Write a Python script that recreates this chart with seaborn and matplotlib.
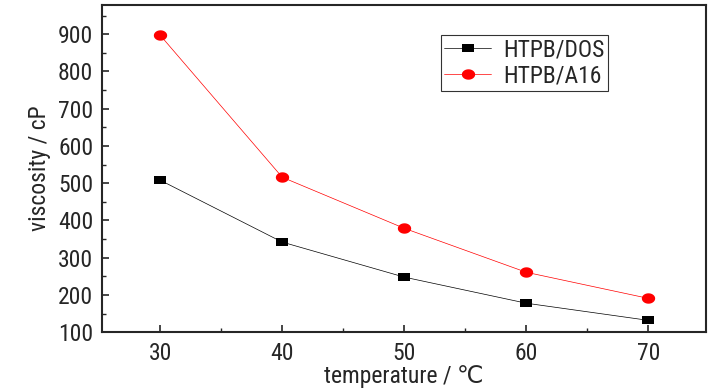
import matplotlib
matplotlib.use('Agg')
import matplotlib.pyplot as plt
import numpy as np
import pandas as pd
import seaborn as sns
from matplotlib.ticker import MultipleLocator

temperature = [30, 40, 50, 60, 70]
dos = [508, 342, 248, 178, 132]
a16 = [897, 516, 379, 261, 191]
series_names = ['HTPB/DOS', 'HTPB/A16']

df = pd.DataFrame({
    'temperature': temperature * 2,
    'viscosity': dos + a16,
    'sample': [series_names[0]] * 5 + [series_names[1]] * 5,
})

# the original picture is squashed a bit horizontally, so markers are wide
t = np.linspace(0, 2 * np.pi, 40)
wide_circle = list(zip(np.cos(t), 0.78 * np.sin(t)))
wide_square = [(-1, -0.72), (1, -0.72), (1, 0.72), (-1, 0.72), (-1, -0.72)]

sns.set_style('ticks')
fonts = ['Roboto Condensed', 'DejaVu Sans']
plt.rcParams['font.family'] = fonts
plt.rcParams['xtick.direction'] = 'in'
plt.rcParams['ytick.direction'] = 'in'

fig, ax = plt.subplots(figsize=(7.26, 3.9), dpi=100)
fig.subplots_adjust(left=0.14, right=0.972, top=0.987, bottom=0.148)

sns.lineplot(data=df, x='temperature', y='viscosity', hue='sample', style='sample',
             palette={'HTPB/DOS': 'black', 'HTPB/A16': 'red'},
             markers={'HTPB/DOS': wide_square, 'HTPB/A16': wide_circle}, dashes=False,
             markersize=9, markeredgewidth=0, linewidth=0.5, ax=ax)
for ln in ax.lines:
    ln.set_markersize(8.2 if ln.get_color() == 'black' else 9.6)

ax.set_xlim(25.2, 74.7)
ax.set_ylim(100, 978)
ax.xaxis.set_major_locator(MultipleLocator(10))
ax.xaxis.set_minor_locator(MultipleLocator(5))
ax.yaxis.set_major_locator(MultipleLocator(100))
ax.yaxis.set_minor_locator(MultipleLocator(50))
ax.tick_params(which='major', length=5, width=1.2, labelsize=17)
ax.tick_params(axis='x', which='major', pad=7)
ax.tick_params(axis='y', which='major', pad=6)
ax.tick_params(which='minor', length=3, width=1.0)
for s in ax.spines.values():
    s.set_linewidth(1.5)

ax.set_xlabel('temperature / ℃', fontsize=17, labelpad=0)
ax.set_ylabel('viscosity / cP', fontsize=17, labelpad=5)

leg = ax.legend(loc='upper left', bbox_to_anchor=(0.561, 0.908), fontsize=17,
                frameon=True, fancybox=False, edgecolor='black', handlelength=2.0,
                handletextpad=0.5, borderpad=0.15, labelspacing=0.1,
                borderaxespad=0, title=None)
leg.get_frame().set_linewidth(0.8)
for h in leg.legend_handles:
    h.set_markersize(8.2 if h.get_color() == 'black' else 9.6)

fig.savefig('out.png', dpi=100)
